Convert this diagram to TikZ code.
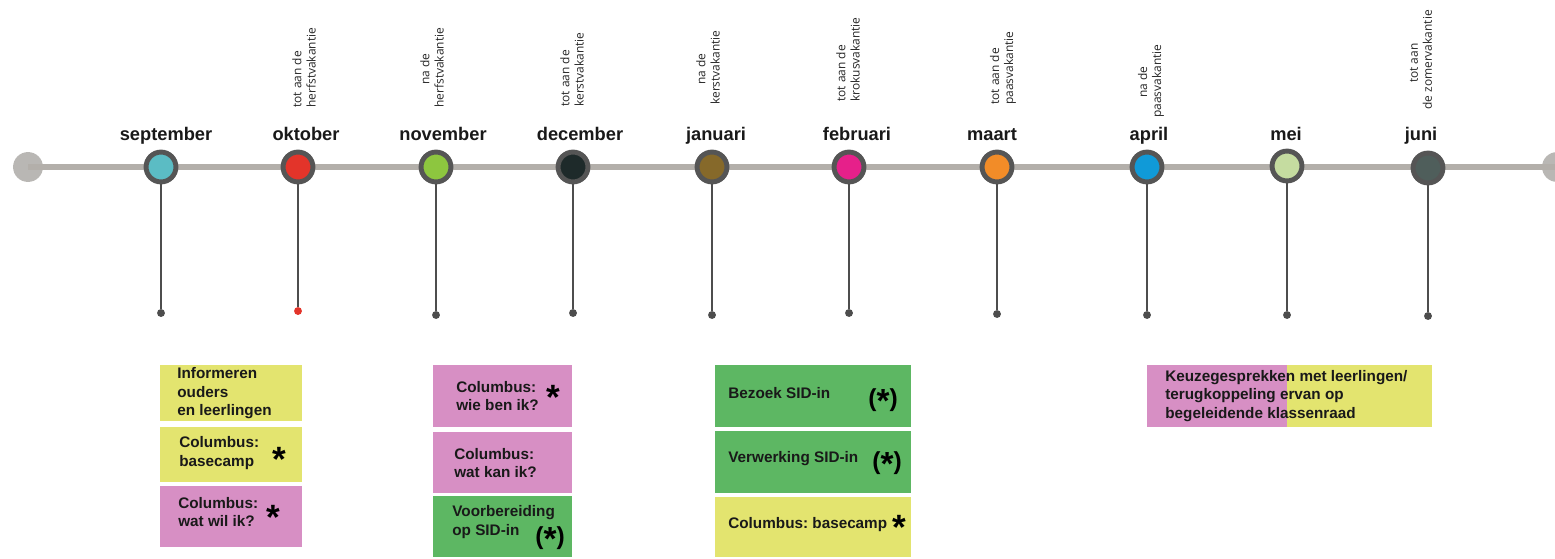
\documentclass[tikz,border=0pt]{standalone}
\usepackage{fontspec}
\setmainfont{Liberation Sans}
\newfontfamily\smallfont{Open Sans}
\definecolor{ringgray}{HTML}{555555}
\definecolor{linegray}{HTML}{B3AFAA}
\definecolor{endgray}{HTML}{B9B7B4}
\definecolor{stemgray}{HTML}{4D4D4D}
\definecolor{cSep}{HTML}{5BBCC4}
\definecolor{cOkt}{HTML}{E3342A}
\definecolor{cNov}{HTML}{8DC63F}
\definecolor{cDec}{HTML}{1E2A2A}
\definecolor{cJan}{HTML}{86692A}
\definecolor{cFeb}{HTML}{E6208A}
\definecolor{cMaa}{HTML}{F28C28}
\definecolor{cApr}{HTML}{109AD8}
\definecolor{cMei}{HTML}{C5DCA0}
\definecolor{cJun}{HTML}{4F5E5B}
\definecolor{yelbox}{HTML}{E3E46F}
\definecolor{pinkbox}{HTML}{D78FC4}
\definecolor{greenbox}{HTML}{5DB763}
\frenchspacing
\newcommand{\parast}{{\fontsize{19}{19}\selectfont\raisebox{-3.6pt}{*}}}
\begin{document}
\begin{tikzpicture}[x=0.02cm,y=-0.02cm,
  month/.style={font=\bfseries\fontsize{10.4}{12}\selectfont, text=black!90, anchor=base, inner sep=0},
  vac/.style={font=\smallfont\fontsize{6.8}{8}\selectfont, rotate=90, anchor=west, align=left, inner sep=0, text=black!85},
  mcirc/.style={circle, draw=ringgray, line width=2.8pt, minimum size=17pt, inner sep=0},
  endc/.style={circle, fill=endgray, minimum size=17pt, inner sep=0},
  dot/.style={circle, fill=stemgray, minimum size=4.5pt, inner sep=0},
  stem/.style={draw=stemgray, line width=1.1pt},
  box/.style={rectangle, inner sep=0, anchor=north west},
  btxt/.style={font=\bfseries\fontsize{8.7}{10.5}\selectfont, align=left, anchor=west, inner sep=0, text=black!90},
  star/.style={font=\bfseries\fontsize{20}{20}\selectfont, inner sep=0, anchor=base},
  pstar/.style={font=\bfseries\fontsize{14}{14}\selectfont, inner sep=0, anchor=base},
]
\useasboundingbox (0,0) rectangle (1555,558);
\clip (0,0) rectangle (1555,558);
\fill[white] (0,0) rectangle (1555,558);

% timeline
\node[endc] (L) at (28,167) {};
\node[endc] (R) at (1557,167) {};
\draw[linegray, line width=3.4pt] (L.center) -- (R.center);

% month circles
\node[mcirc, fill=cSep] (sep) at (161,167) {};
\node[mcirc, fill=cOkt] (okt) at (298,167) {};
\node[mcirc, fill=cNov] (nov) at (436,167) {};
\node[mcirc, fill=cDec] (dec) at (573,167) {};
\node[mcirc, fill=cJan] (jan) at (712,167) {};
\node[mcirc, fill=cFeb] (feb) at (849,167) {};
\node[mcirc, fill=cMaa] (maa) at (997,167) {};
\node[mcirc, fill=cApr] (apr) at (1147,167) {};
\node[mcirc, fill=cMei] (mei) at (1287,166) {};
\node[mcirc, fill=cJun] (jun) at (1428,168) {};

% dots and stems
\node[dot] (sepd) at (161,313) {};
\node[dot, fill=cOkt] (oktd) at (298,311) {};
\node[dot] (novd) at (436,315) {};
\node[dot] (decd) at (573,313) {};
\node[dot] (jand) at (712,315) {};
\node[dot] (febd) at (849,313) {};
\node[dot] (maad) at (997,314) {};
\node[dot] (aprd) at (1147,315) {};
\node[dot] (meid) at (1287,315) {};
\node[dot] (jund) at (1428,316) {};
\foreach \m in {sep,okt,nov,dec,jan,feb,maa,apr,mei,jun}{
  \draw[stem] (\m) -- (\m d);
}

% month labels
\node[month] (lsep) at (166,140) {september};
\node[month] (lokt) at (306,140) {oktober};
\node[month] (lnov) at (443,140) {november};
\node[month] (ldec) at (580,140) {december};
\node[month] (ljan) at (716,140) {januari};
\node[month] (lfeb) at (857,140) {februari};
\node[month] (lmaa) at (992,140) {maart};
\node[month] (lapr) at (1149,140) {april};
\node[month] (lmei) at (1286,140) {mei};
\node[month] (ljun) at (1421,140) {juni};

% vacation labels
\node[vac] (vokt) at (304,108) {tot aan de\\herfstvakantie};
\node[vac] (vnov) at (432,108) {\hspace*{13pt}na de\\herfstvakantie};
\node[vac] (vdec) at (572,107) {tot aan de\\kerstvakantie};
\node[vac] (vjan) at (708,105) {\hspace*{11.3pt}na de\\kerstvakantie};
\node[vac] (vfeb) at (848,102) {tot aan de\\krokusvakantie};
\node[vac] (vmaa) at (1003,105) {tot aan de\\paasvakantie};
\node[vac] (vapr) at (1151,118) {\hspace*{11.3pt}na de\\paasvakantie};
\node[vac] (vjun) at (1421,110) {\hspace*{15.3pt}tot aan\\de zomervakantie};

% boxes september
\node[box, fill=yelbox, minimum width=2.84cm, minimum height=1.12cm] (b1) at (160,365) {};
\node[box, fill=yelbox, minimum width=2.84cm, minimum height=1.10cm] (b2) at (160,427) {};
\node[box, fill=pinkbox, minimum width=2.84cm, minimum height=1.22cm] (b3) at (160,486) {};
\node[btxt] (t1) at (177,393.5) {Informeren\\ouders\\en leerlingen};
\node[btxt] (t2) at (179,453) {Columbus:\\basecamp};
\node[star] (s2) at (279,471) {*};
\node[btxt] (t3) at (178,512) {Columbus:\\wat wil ik?};
\node[star] (s3) at (273,529) {*};

% boxes november
\node[box, fill=pinkbox, minimum width=2.78cm, minimum height=1.24cm] (b4) at (433,365) {};
\node[box, fill=pinkbox, minimum width=2.78cm, minimum height=1.22cm] (b5) at (433,432) {};
\node[box, fill=greenbox, minimum width=2.78cm, minimum height=1.22cm] (b6) at (433,496) {};
\node[btxt] (t4) at (456,396) {Columbus:\\wie ben ik?};
\node[star] (s4) at (553,409) {*};
\node[btxt] (t5) at (454,463) {Columbus:\\wat kan ik?};
\node[btxt] (t6) at (452,522) {Voorbereiding\\op SID-in};
\node[pstar] (s6) at (550,544) {(\parast)};

% boxes januari
\node[box, fill=greenbox, minimum width=3.92cm, minimum height=1.24cm] (b7) at (715,365) {};
\node[box, fill=greenbox, minimum width=3.92cm, minimum height=1.24cm] (b8) at (715,431) {};
\node[box, fill=yelbox, minimum width=3.92cm, minimum height=1.20cm] (b9) at (715,497) {};
\node[btxt] (t7) at (728,393) {Bezoek SID-in};
\node[pstar] (s7) at (883,406) {(\parast)};
\node[btxt] (t8) at (728,459) {Verwerking SID-in};
\node[pstar] (s8) at (887,469) {(\parast)};
\node[btxt] (t9) at (728,525) {Columbus: basecamp};
\node[star] (s9) at (899,539) {*};

% box mei
\node[box, fill=pinkbox, minimum width=2.80cm, minimum height=1.24cm] (b10a) at (1147,365) {};
\node[box, fill=yelbox, minimum width=2.90cm, minimum height=1.24cm] (b10b) at (1287,365) {};
\node[btxt] (t10) at (1165,396) {Keuzegesprekken met leerlingen/\\terugkoppeling ervan op\\begeleidende klassenraad};
\end{tikzpicture}
\end{document}
